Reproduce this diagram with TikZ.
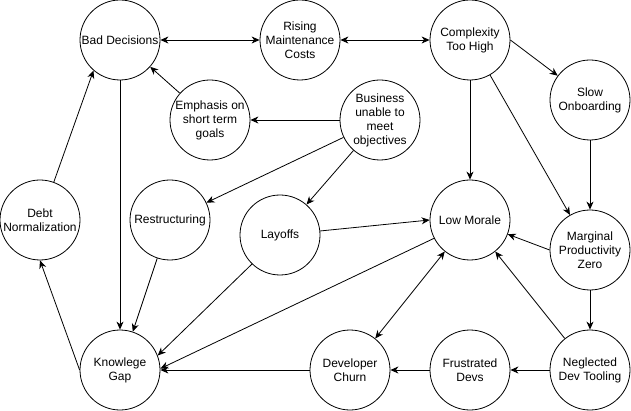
\documentclass[tikz,border=0pt]{standalone}
\usepackage{fontspec}
\setmainfont{Liberation Sans}
\usetikzlibrary{arrows.meta}
\begin{document}
\begin{tikzpicture}[x=1pt,y=-1pt,
  issue/.style={circle,draw,line width=0.8pt,minimum size=80pt,inner sep=0pt,
    align=center,font=\fontsize{12pt}{14pt}\selectfont,fill=white},
  link/.style={line width=0.8pt,-{Stealth[length=8pt,width=7pt,inset=2.5pt]}},
  both/.style={line width=0.8pt,{Stealth[length=8pt,width=7pt,inset=2.5pt]}-{Stealth[length=8pt,width=7pt,inset=2.5pt]}}]
  \useasboundingbox (0,0) rectangle (631,411);

  % nodes of the cause/effect graph
  \node[issue] (bad)   at (120,40)  {Bad Decisions};
  \node[issue] (rmc)   at (300,40)  {Rising\\Maintenance\\Costs};
  \node[issue] (cplx)  at (470,40)  {Complexity\\Too High};
  \node[issue] (slow)  at (590,100) {Slow\\Onboarding};
  \node[issue] (emph)  at (210,120) {Emphasis on\\short term\\goals};
  \node[issue] (biz)   at (380,120) {Business\\unable to\\meet\\objectives};
  \node[issue] (debt)  at (40,220)  {Debt\\Normalization};
  \node[issue] (restr) at (170,220) {Restructuring};
  \node[issue] (lay)   at (280,235) {Layoffs};
  \node[issue] (low)   at (470,220) {Low Morale};
  \node[issue] (marg)  at (590,250) {Marginal\\Productivity\\Zero};
  \node[issue] (know)  at (120,370) {Knowlege\\Gap};
  \node[issue] (churn) at (350,370) {Developer\\Churn};
  \node[issue] (frus)  at (470,370) {Frustrated\\Devs};
  \node[issue] (tool)  at (590,370) {Neglected\\Dev Tooling};

  % connectors
  \draw[both] (bad) -- (rmc);
  \draw[both] (rmc) -- (cplx);
  \draw[link] (cplx.east) -- (slow);
  \draw[link] (cplx) -- (low);
  \draw[link] (cplx) -- (marg);
  \draw[link] (slow) -- (marg);
  \draw[link] (emph) -- (bad);
  \draw[link] (biz) -- (emph);
  \draw[link] (biz) -- (restr);
  \draw[link] (biz) -- (lay);
  \draw[link] (bad) -- (know);
  \draw[link] (debt.70) -- (bad.229);
  \draw[link] (know.west) -- (debt.south);
  \draw[link] (restr) -- (know);
  \draw[link] (lay.226) -- (know.21);
  \draw[link] (lay) -- (low.west);
  \draw[link] (low.207) -- (know.2);
  \draw[both] (low) -- (churn);
  \draw[link] (marg.west) -- (low);
  \draw[link] (marg) -- (tool);
  \draw[link] (tool) -- (low);
  \draw[link] (tool) -- (frus);
  \draw[link] (frus) -- (churn);
  \draw[link] (churn) -- (know);
\end{tikzpicture}
\end{document}
